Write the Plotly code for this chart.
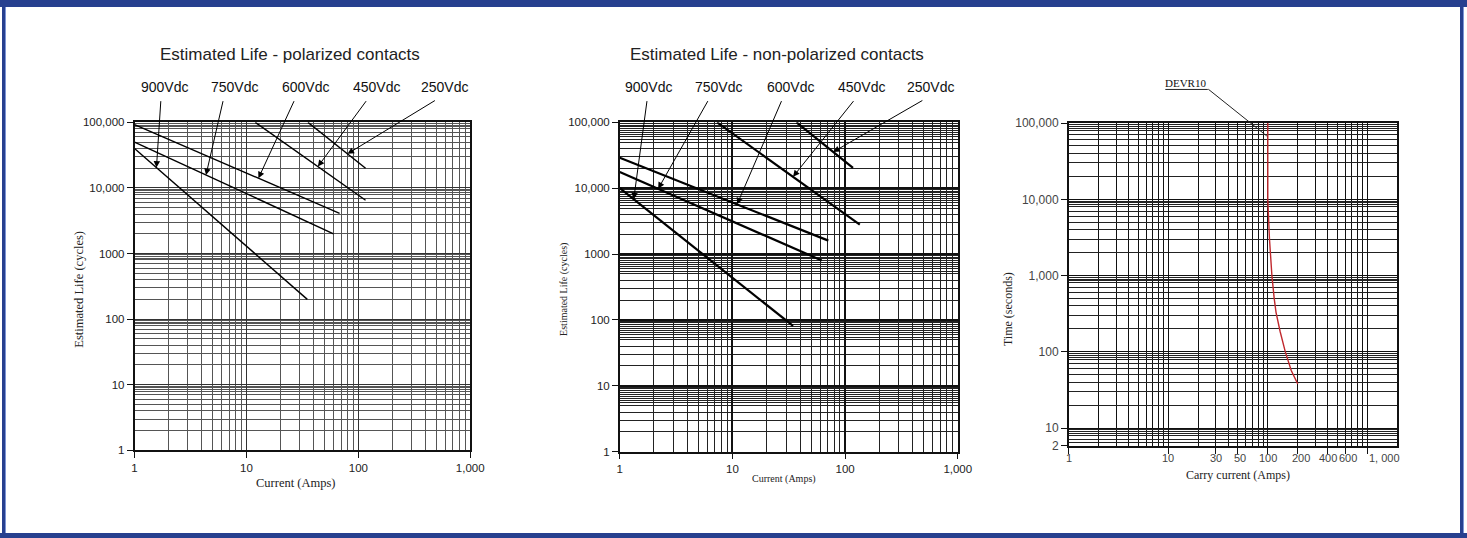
import numpy as np
import plotly.graph_objects as go

# ---------------- data ----------------
vdc_labels = ["900Vdc", "750Vdc", "600Vdc", "450Vdc", "250Vdc"]

# polarized contacts (current in A, life in cycles), straight lines on log-log
pol_900_amps, pol_900_cycles = [1, 35], [40000, 200]
pol_750_amps, pol_750_cycles = [1, 60], [50000, 2000]
pol_600_amps, pol_600_cycles = [1, 68], [92000, 4100]
pol_450_amps, pol_450_cycles = [12, 116], [100000, 6500]
pol_250_amps, pol_250_cycles = [35.5, 116], [100000, 20000]
pol_arrow_amps = [1.57, 4.35, 12.8, 43.5, 80]        # where each label's arrow touches its line
pol_tail_amps = [1.72, 6.22, 27.0, 120, 498]          # arrow tail positions (above the plot)
pol_label_amps = [1.85, 7.84, 33.8, 145, 594]

# non-polarized contacts
np_900_amps, np_900_cycles = [1, 34.5], [10000, 81]
np_750_amps, np_750_cycles = [1, 62], [17600, 800]
np_600_amps, np_600_cycles = [1, 71], [29000, 1600]
np_450_amps, np_450_cycles = [7.3, 135], [100000, 2800]
np_250_amps, np_250_cycles = [37, 117.5], [100000, 20400]
np_arrow_amps = [1.33, 2.19, 11.0, 34.5, 78.5]
np_tail_amps = [1.75, 6.15, 27.6, 121.6, 500]
np_label_amps = [1.80, 7.5, 33.0, 140, 570]

# DEVR10 carry current curve
devr_amps = [100, 100, 104, 110, 116, 121, 133, 150, 172, 200]
devr_seconds = [100000, 10000, 3000, 1000, 500, 330, 185, 100, 57, 38]

# tick labels
life_tickvals = [1, 10, 100, 1000, 10000, 100000]
life_ticktext = ["1", "10", "100", "1000", "10,000", "100,000"]
amps_tickvals = [1, 10, 100, 1000]
amps_ticktext = ["1", "10", "100", "1,000"]
carry_tickvals = [1, 10, 30, 50, 100, 200, 400, 600, 1000]
carry_ticktext = ["1", "10", "30", "50", "100", "200", "400", "600", "1, 000"]
time_bottom = 5.87
time_tickvals = [time_bottom, 10, 100, 1000, 10000, 100000]
time_ticktext = ["2", "10", "100", "1,000", "10,000", "100,000"]

# ---------------- layout helpers ----------------
PAGE_W, PAGE_H = 1467, 538
OFF = 8                      # default page margin around the figure
W, H = PAGE_W - 2 * OFF, PAGE_H - 2 * OFF
def fx(p): return (p - OFF) / W          # page pixel -> paper fraction
def fy(p): return 1 - (p - OFF) / H

BLUE = "#27408f"
LIGHT = "#7d95d6"
SANS = "Liberation Sans, Arial, sans-serif"
SERIF = "Liberation Serif, Times New Roman, serif"

def minor_vals(mults, lo_dec, hi_dec, vmin=None, vmax=None):
    out = []
    for d in range(lo_dec, hi_dec):
        for m in mults:
            v = m * 10 ** d
            if (vmin is None or v > vmin) and (vmax is None or v < vmax):
                out.append(v)
    return out

std = [2, 3, 4, 5, 6, 7, 8, 9]
left_y_minor = minor_vals(std + [8.5, 9.5], 0, 5)
mid_y_minor = minor_vals([2, 3, 4, 5, 5.5, 6, 6.5, 7, 7.5, 8, 8.5, 9, 9.5], 0, 5)
right_y_minor = minor_vals([2, 3, 4, 5, 6, 7, 8, 8.5, 9, 9.5], 0, 5, vmin=time_bottom) + [6, 6.5, 7, 8, 8.5, 9]
x_minor = minor_vals(std, 0, 3)
right_x_all = [m * 10 ** d for d in range(0, 3) for m in range(1, 10)] + [1000]

fig = go.Figure()

def add_line(xs, ys, xa, ya, color="black", width=1.5):
    fig.add_trace(go.Scatter(x=xs, y=ys, mode="lines", xaxis=xa, yaxis=ya,
                             line=dict(color=color, width=width), showlegend=False,
                             hoverinfo="skip"))

pol_series = [(pol_900_amps, pol_900_cycles), (pol_750_amps, pol_750_cycles),
              (pol_600_amps, pol_600_cycles), (pol_450_amps, pol_450_cycles),
              (pol_250_amps, pol_250_cycles)]
np_series = [(np_900_amps, np_900_cycles), (np_750_amps, np_750_cycles),
             (np_600_amps, np_600_cycles), (np_450_amps, np_450_cycles),
             (np_250_amps, np_250_cycles)]

for xs, ys in pol_series:
    add_line(xs, ys, "x", "y", width=1.4)
for xs, ys in np_series:
    add_line(xs, ys, "x2", "y2", width=2.2)
add_line(devr_amps, devr_seconds, "x3", "y3", color="#c0282d", width=1.4)

def interp_loglog(x, xs, ys):
    lx = np.log10(x)
    return float(np.interp(lx, np.log10(xs), np.log10(ys)))

annotations = []
def arrow_set(series, arrow_amps, tail_amps, label_amps, xref, yref, tail_log_y, label_py):
    for lab, (xs, ys), ha, ta, la in zip(vdc_labels, series, arrow_amps, tail_amps, label_amps):
        annotations.append(dict(
            x=np.log10(ha), y=interp_loglog(ha, xs, ys), xref=xref, yref=yref,
            ax=np.log10(ta), ay=tail_log_y, axref=xref, ayref=yref,
            text="", showarrow=True, arrowhead=2, arrowsize=1.3, arrowwidth=1,
            arrowcolor="black", standoff=0))
        annotations.append(dict(
            x=np.log10(la), y=fy(label_py), xref=xref, yref="paper",
            text=lab, showarrow=False, font=dict(family=SANS, size=14, color="#111"),
            xanchor="center", yanchor="middle"))

arrow_set(pol_series, pol_arrow_amps, pol_tail_amps, pol_label_amps, "x", "y", 5.346, 81.7)
arrow_set(np_series, np_arrow_amps, np_tail_amps, np_label_amps, "x2", "y2", 5.345, 81.7)

def txt(x, y, s, size, family=SANS, angle=0, color="#222"):
    annotations.append(dict(x=fx(x), y=fy(y), xref="paper", yref="paper", text=s,
                            showarrow=False, textangle=angle,
                            font=dict(family=family, size=size, color=color),
                            xanchor="center", yanchor="middle"))

txt(290, 48.3, "Estimated Life - polarized contacts", 17)
txt(783, 48.3, "Estimated Life - non-polarized contacts", 17)
txt(77, 290, "Estimated Life (cycles)", 12.5, SERIF, -90)
txt(296, 489, "Current (Amps)", 12.5, SERIF)
txt(568, 290, "Estimated Life (cycles)", 10, SERIF, -90)
txt(790, 485, "Current (Amps)", 10, SERIF)
txt(1017, 310, "Time (seconds)", 12, SERIF, -90)
txt(1250, 481, "Carry current (Amps)", 12, SERIF)
txt(1196, 78, "DEVR10", 11, SERIF, color="#111")

# right x tick labels, drawn as annotations so they can sit like the reference
carry_label_shift = [0, 0, 0, 2, 0, 3, 0, 3, 0]
carry_label_anchor = ["center"] * 8 + ["left"]
for v, t, sh, an in zip(carry_tickvals, carry_ticktext, carry_label_shift, carry_label_anchor):
    annotations.append(dict(x=np.log10(v), y=fy(463), xref="x3", yref="paper", text=t,
                            showarrow=False, xshift=sh, xanchor=an, yanchor="middle",
                            font=dict(family=SANS, size=11, color="#444")))

# DEVR10 leader
annotations.append(dict(x=np.log10(devr_amps[0]) - 0.01, y=4.83, xref="x3", yref="y3",
                        ax=-60, ay=-48, text="", showarrow=True, arrowhead=0,
                        arrowwidth=1, arrowcolor="#222", standoff=0))

shapes = [
    dict(type="line", xref="paper", yref="paper", x0=fx(1176), x1=fx(1219), y0=fy(84.5), y1=fy(84.5),
         line=dict(color="#222", width=1)),
]

def axis(domain, rng, tickvals, ticktext, minor, anchor, major_w, major_c, minor_w, minor_c,
         fsize=11.5, fcolor="#222", lw=1.5):
    return dict(type="log", range=rng, domain=domain, anchor=anchor,
                tickmode="array", tickvals=tickvals, ticktext=ticktext, tickangle=0,
                ticks="outside", ticklen=6, tickwidth=1, tickcolor="#111",
                showgrid=True, gridcolor=major_c, gridwidth=major_w,
                minor=dict(tickmode="array", tickvals=minor, showgrid=True,
                           gridcolor=minor_c, gridwidth=minor_w, ticks=""),
                showline=True, mirror=True, linecolor="#111", linewidth=lw,
                zeroline=False, tickfont=dict(family=SANS, size=fsize, color=fcolor),
                fixedrange=True)

layout = dict(
    width=W, height=H, margin=dict(l=0, r=0, t=0, b=0, pad=0),
    paper_bgcolor="white", plot_bgcolor="white", showlegend=False,
    xaxis=axis([fx(133), fx(472.7)], [0, 3], amps_tickvals, amps_ticktext, x_minor, "y",
               1.3, "#333", 1, "#555"),
    yaxis=axis([fy(455.3), fy(118.3)], [0, 5], life_tickvals, life_ticktext, left_y_minor, "x",
               1.3, "#333", 1, "#555"),
    xaxis2=axis([fx(624), fx(966)], [0, 3], amps_tickvals, amps_ticktext, x_minor, "y2",
                1.6, "#111", 1.3, "#222"),
    yaxis2=axis([fy(456.7), fy(118.3)], [0, 5], life_tickvals, life_ticktext, mid_y_minor, "x2",
                1.6, "#111", 1.2, "#222"),
    xaxis3=axis([fx(1078.3), fx(1410.7)], [0, np.log10(2000)], carry_tickvals,
                [""] * len(carry_tickvals),
                right_x_all, "y3", 1.1, "#111", 1.1, "#111", fsize=11, fcolor="#444"),
    yaxis3=axis([fy(450.7), fy(119)], [np.log10(time_bottom), 5], time_tickvals, time_ticktext,
                right_y_minor, "x3", 1.3, "#111", 1, "#222", fsize=12, fcolor="#444"),
    annotations=annotations, shapes=shapes,
)
fig.update_layout(**layout)

# blue page frame painted in the page margin around the figure
frame_css = ", ".join([
    f"linear-gradient({BLUE},{BLUE}) 0 0/100% 7px no-repeat",
    f"linear-gradient({BLUE},{BLUE}) 0 100%/100% 5px no-repeat",
    (f"linear-gradient(to right, #ffffff 0px, #ffffff 2px, {BLUE} 2px, {BLUE} 5px, "
     f"{LIGHT} 5px, {LIGHT} 6px, #ffffff 6px, #ffffff 1460px, {BLUE} 1460px, {BLUE} 1463px, "
     f"{LIGHT} 1463px, {LIGHT} 1464px, #ffffff 1464px)"),
])

fig.write_html(
    "out.html",
    post_script=f"document.body.style.background='{frame_css}';",
    config={"displayModeBar": False},
)
